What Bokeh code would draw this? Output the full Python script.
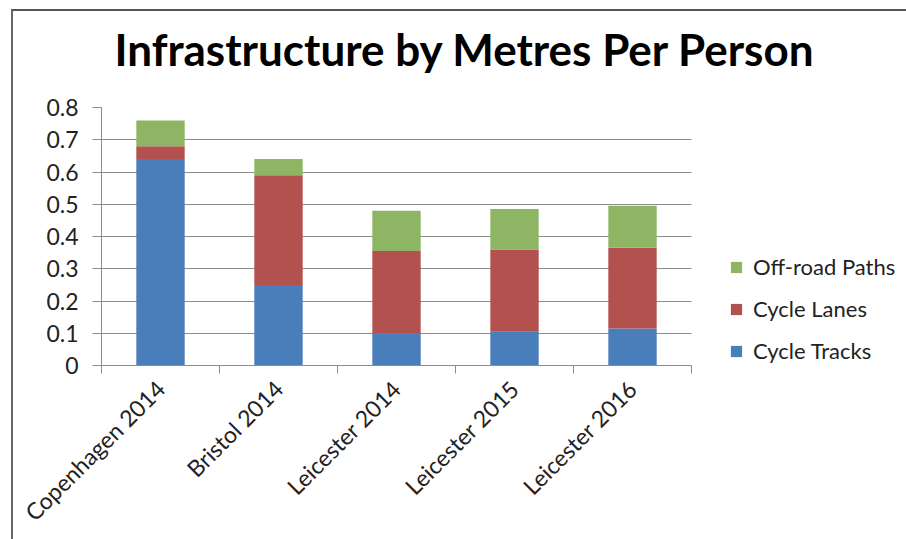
from bokeh.plotting import figure
from bokeh.models import Legend, LegendItem, FixedTicker, Title
from bokeh.layouts import column
from bokeh.embed import file_html
from bokeh.resources import INLINE
import math

categories = ["Copenhagen 2014", "Bristol 2014", "Leicester 2014", "Leicester 2015", "Leicester 2016"]
cycle_tracks = [0.64, 0.25, 0.10, 0.105, 0.115]
cycle_lanes = [0.04, 0.34, 0.255, 0.255, 0.25]
off_road_paths = [0.08, 0.05, 0.125, 0.125, 0.13]
series_names = ["Cycle Tracks", "Cycle Lanes", "Off-road Paths"]
colors = ["#4A7EBB", "#B3514F", "#8EB564"]
y_ticks = [0.0, 0.1, 0.2, 0.3, 0.4, 0.5, 0.6, 0.7, 0.8]

FONT = "Lato"
GRID = "#8C8C8C"

# layout (pixels)
W, H = 893, 555
LEFT, TOP, BOTTOM = 88, 123, 174
PLOT_W = 590          # width of the category area
FRAME_W = W - LEFT    # frame extends to the right edge (room for the legend)

n = len(categories)
x_end = n * FRAME_W / PLOT_W

xs = [i + 0.5 for i in range(n)]
data = dict(x=xs, tracks=cycle_tracks, lanes=cycle_lanes, off=off_road_paths)

p = figure(width=W, height=H, output_backend="svg", toolbar_location=None,
           x_range=(0, x_end), y_range=(0, y_ticks[-1]),
           min_border_left=LEFT, min_border_right=0, min_border_top=TOP, min_border_bottom=BOTTOM)
p.title = Title(text="Infrastructure by Metres Per Person", text_font=FONT,
                text_font_size="44px", text_font_style="bold", align="left", offset=13,
                text_color="#000000", standoff=66)
p.outline_line_color = None
p.border_fill_color = None
p.styles = {"margin-top": "-27px"}

renderers = p.vbar_stack(["tracks", "lanes", "off"], x="x", width=0.41, color=colors,
                         source=data, line_color=None)

p.xgrid.grid_line_color = None
p.ygrid.grid_line_color = GRID
p.ygrid.grid_line_width = 1
try:
    p.ygrid.cross_bounds = (0, n)
except Exception:
    p.ygrid.grid_line_color = None
    p.segment(x0=[0] * len(y_ticks), x1=[n] * len(y_ticks), y0=y_ticks, y1=y_ticks,
              line_color=GRID, line_width=1)

p.yaxis.ticker = FixedTicker(ticks=y_ticks)
p.yaxis.major_label_overrides = {t: ("0" if t == 0 else f"{t:.1f}") for t in y_ticks}
p.yaxis.axis_line_color = GRID
p.yaxis.major_tick_line_color = GRID
p.yaxis.major_tick_out = 9
p.yaxis.major_tick_in = 0
p.yaxis.minor_tick_line_color = None
p.yaxis.major_label_text_font = FONT
p.yaxis.major_label_text_font_size = "23px"
p.yaxis.major_label_text_color = "#222222"
p.yaxis.major_label_standoff = 14

p.xaxis.bounds = (0, n)
p.xaxis.ticker = FixedTicker(ticks=xs, minor_ticks=list(range(n + 1)))
p.xaxis.major_label_overrides = {x: c for x, c in zip(xs, categories)}
p.xaxis.axis_line_color = GRID
p.xaxis.major_tick_line_color = None
p.xaxis.minor_tick_line_color = GRID
p.xaxis.minor_tick_out = 8
p.xaxis.minor_tick_in = 0
p.xaxis.major_label_orientation = math.pi / 4
p.xaxis.major_label_text_font = FONT
p.xaxis.major_label_text_font_size = "23px"
p.xaxis.major_label_text_color = "#222222"
p.xaxis.major_label_standoff = 11

items = [LegendItem(label=series_names[i], renderers=[renderers[i]]) for i in [2, 1, 0]]
legend = Legend(items=items, location=(628, 1), orientation="vertical",
                glyph_width=14, glyph_height=14, label_text_font=FONT,
                label_text_font_size="22px", label_text_color="#222222",
                label_height=20, spacing=15, padding=0, margin=0, border_line_color=None,
                background_fill_alpha=0, label_standoff=10)
p.add_layout(legend, "center")

layout = column(p)
layout.styles = {"border-top": "2px solid #555555", "border-left": "2px solid #666666",
                 "margin-top": "9px", "margin-left": "11px"}

open("out.html", "w").write(file_html(layout, INLINE))
